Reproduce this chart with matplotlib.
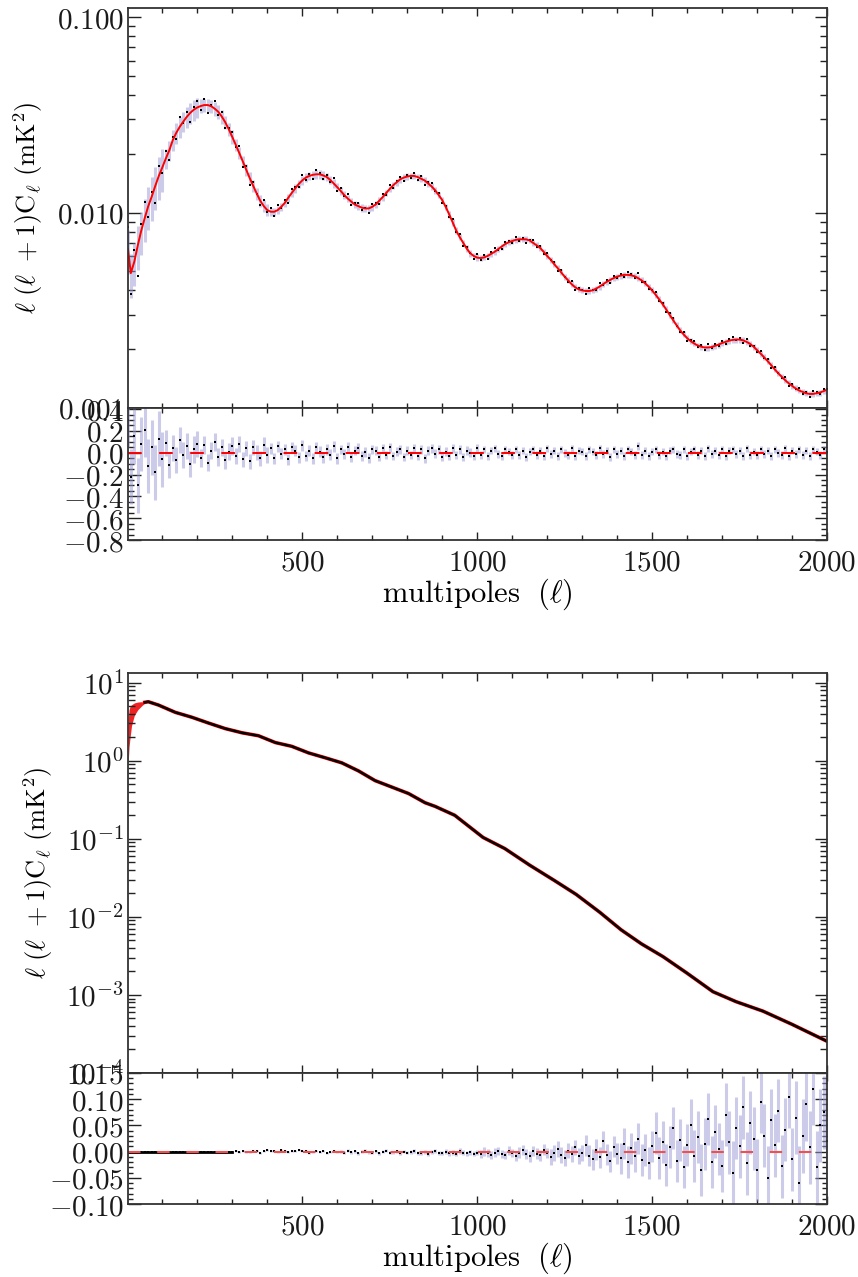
import numpy as np
import matplotlib.pyplot as plt
from matplotlib.ticker import FixedLocator, MultipleLocator, LogLocator, NullFormatter, FixedFormatter

plt.rcParams['mathtext.fontset'] = 'cm'
plt.rcParams['font.family'] = 'DejaVu Serif'

# multipole grid of the plotted points
ell = np.concatenate([[2], np.arange(10, 2001, 10)])

# upper figure: best fit model (units of 1e-3 mK^2)
model_top = np.array([
    6.5,
    4.9, 5.6, 6.8, 8.1, 9.4, 10.8, 12.1, 13.7, 15.4, 17.0,
    18.9, 20.8, 23.5, 25.6, 27.5, 29.2, 30.9, 32.4, 33.6, 34.5,
    35.1, 35.5, 35.5, 35.0, 34.0, 32.8, 31.0, 29.0, 26.7, 24.4,
    22.2, 20.2, 18.3, 16.6, 15.0, 13.7, 12.5, 11.5, 10.8, 10.3,
    10.1, 10.1, 10.3, 10.7, 11.2, 11.9, 12.6, 13.3, 14.0, 14.6,
    15.1, 15.4, 15.6, 15.7, 15.7, 15.5, 15.2, 14.7, 14.1, 13.5,
    12.9, 12.3, 11.8, 11.4, 11.0, 10.8, 10.6, 10.5, 10.5, 10.7,
    11.0, 11.5, 12.0, 12.6, 13.2, 13.8, 14.3, 14.8, 15.1, 15.3,
    15.4, 15.4, 15.2, 14.9, 14.6, 14.1, 13.6, 13.0, 12.3, 11.6,
    10.7, 9.8, 8.9, 8.1, 7.5, 7.0, 6.55, 6.2, 6.0, 5.88,
    5.85, 5.9, 6.0, 6.15, 6.3, 6.5, 6.7, 6.9, 7.05, 7.15,
    7.25, 7.3, 7.3, 7.3, 7.2, 7.0, 6.8, 6.6, 6.3, 6.0,
    5.75, 5.45, 5.2, 4.95, 4.7, 4.5, 4.3, 4.15, 4.05, 4.0,
    3.97, 3.97, 4.0, 4.08, 4.18, 4.3, 4.42, 4.52, 4.62, 4.7,
    4.76, 4.8, 4.8, 4.78, 4.72, 4.62, 4.5, 4.35, 4.18, 4.0,
    3.8, 3.6, 3.4, 3.2, 3.0, 2.82, 2.65, 2.5, 2.38, 2.28,
    2.2, 2.14, 2.09, 2.06, 2.04, 2.04, 2.05, 2.08, 2.11, 2.15,
    2.18, 2.21, 2.23, 2.24, 2.24, 2.22, 2.18, 2.13, 2.06, 1.98,
    1.9, 1.82, 1.74, 1.66, 1.58, 1.51, 1.45, 1.39, 1.34, 1.3,
    1.26, 1.23, 1.21, 1.19, 1.18, 1.18, 1.19, 1.2, 1.22, 1.24]) * 1e-3

# upper figure: fractional residuals (data - model)/model
res_top = np.array([
    0.30,
    -0.22, 0.15, -0.30, 0.08, 0.21, -0.12, 0.05, -0.18, 0.13, -0.06,
    0.09, -0.11, 0.04, -0.07, 0.12, -0.02, 0.06, -0.10, 0.03, 0.08,
    -0.05, 0.07, -0.09, 0.02, 0.10, -0.04, 0.05, -0.07, 0.01, 0.06,
    -0.03, 0.08, -0.06, 0.04, -0.08, 0.05, 0.00, -0.05, 0.07, -0.02,
    0.04, -0.05, 0.06, -0.01, 0.03, -0.06, 0.05, 0.02, -0.04, 0.07,
    -0.03, 0.02, -0.05, 0.05, 0.01, -0.04, 0.03, -0.02, 0.06, -0.05,
    0.03, -0.01, 0.05, -0.04, 0.02, 0.04, -0.03, 0.01, -0.05, 0.03,
    0.02, -0.04, 0.04, -0.02, 0.05, -0.03, 0.01, 0.03, -0.04, 0.02,
    -0.02, 0.04, -0.03, 0.03, -0.05, 0.02, 0.04, -0.01, 0.03, -0.04,
    0.01, -0.03, 0.04, -0.02, 0.03, -0.04, 0.02, 0.00, -0.03, 0.04,
    -0.02, 0.03, -0.03, 0.02, 0.04, -0.01, -0.03, 0.03, 0.01, -0.02,
    0.03, -0.02, 0.02, -0.04, 0.01, 0.03, -0.02, 0.02, -0.03, 0.04,
    -0.01, 0.02, -0.03, 0.03, 0.00, -0.02, 0.04, -0.03, 0.02, 0.01,
    -0.03, 0.03, 0.01, -0.02, 0.04, -0.01, 0.02, -0.04, 0.03, -0.01,
    0.02, -0.03, 0.03, 0.01, -0.02, 0.06, -0.02, 0.02, -0.03, 0.01,
    0.03, -0.02, 0.01, -0.03, 0.02, 0.03, -0.01, -0.02, 0.03, -0.03,
    0.01, 0.03, -0.02, 0.02, -0.03, 0.04, -0.01, 0.02, -0.02, 0.03,
    -0.03, 0.02, 0.03, -0.01, 0.02, -0.03, 0.04, -0.02, 0.01, -0.02,
    0.03, -0.01, 0.02, -0.03, 0.03, 0.00, -0.02, 0.04, -0.03, 0.02,
    -0.01, 0.03, -0.02, 0.02, -0.03, 0.03, 0.01, -0.02, 0.03, 0.01])

# fractional error per 100-multipole block
sig_top = np.array([0.25, 0.12, 0.08, 0.07, 0.05, 0.05, 0.045, 0.04, 0.04, 0.04,
                    0.035, 0.035, 0.035, 0.035, 0.035, 0.035, 0.035, 0.035, 0.035, 0.035])

# lower figure: spectrum
ell_bot = np.array([50, 60, 89, 137, 185, 232, 280, 328, 375, 423, 470, 518, 566, 613, 661,
                    708, 756, 804, 851, 880, 936, 1017, 1079, 1150, 1222, 1283, 1350, 1412,
                    1470, 1531, 1600, 1674, 1740, 1817, 1900, 2000])
cl_bot = np.array([5.6, 5.7, 5.17, 4.17, 3.6, 3.04, 2.58, 2.28, 2.09, 1.71, 1.53, 1.26, 1.09,
                   0.94, 0.74, 0.557, 0.46, 0.38, 0.29, 0.26, 0.20, 0.104, 0.075, 0.046, 0.029,
                   0.0194, 0.0115, 0.0068, 0.0045, 0.0031, 0.0019, 0.0011, 0.00082, 0.00062,
                   0.00042, 0.000255])
# red band at low multipoles
ell_band = np.array([2, 5, 8, 12, 20, 30, 40, 50])
band_lo = np.array([0.85, 1.5, 2.0, 2.8, 3.8, 4.5, 5.0, 5.5])
band_hi = np.array([3.0, 4.5, 5.0, 5.2, 5.5, 5.65, 5.7, 5.65])

res_bot = np.array([
    0.0,
    0.0, 0.0, 0.0, 0.0, 0.0, 0.0, 0.0, 0.0, 0.0, 0.0,
    0.0, 0.0, 0.0, 0.0, 0.0, 0.0, 0.0, 0.0, 0.0, 0.0,
    0.0, 0.0, 0.0, 0.0, 0.0, 0.0, 0.0, 0.0, 0.0, 0.0,
    0.001, -0.001, 0.002, 0.000, -0.001, 0.002, 0.001, -0.002, 0.001, 0.003,
    0.002, 0.001, -0.001, 0.003, 0.002, 0.000, 0.002, 0.001, 0.003, 0.002,
    0.001, -0.002, 0.000, 0.002, -0.001, 0.001, -0.002, 0.000, 0.001, -0.001,
    0.000, -0.002, 0.002, -0.001, 0.001, -0.003, 0.000, 0.002, -0.001, -0.002,
    0.001, -0.003, 0.000, 0.002, -0.002, -0.001, 0.001, -0.003, 0.000, -0.002,
    -0.001, 0.001, -0.003, -0.002, 0.000, -0.004, -0.001, 0.001, -0.002, -0.003,
    0.000, -0.003, -0.002, -0.004, 0.001, -0.002, -0.003, -0.001, -0.004, -0.002,
    -0.005, 0.000, -0.003, -0.007, -0.002, 0.001, -0.004, -0.006, 0.002, -0.003,
    -0.008, -0.002, 0.003, -0.005, -0.009, 0.001, -0.004, -0.007, 0.004, -0.003,
    -0.010, -0.002, 0.005, -0.006, -0.012, 0.002, -0.004, 0.008, -0.009, -0.003,
    0.012, -0.008, -0.015, 0.004, -0.011, 0.020, -0.006, -0.018, 0.009, -0.004,
    -0.013, 0.015, -0.020, 0.006, -0.009, 0.025, -0.016, 0.003, -0.022, 0.010,
    0.035, -0.012, 0.018, -0.025, 0.008, 0.045, -0.018, 0.022, -0.030, 0.012,
    0.050, -0.008, 0.028, -0.035, 0.015, 0.062, -0.020, 0.038, 0.005, -0.028,
    0.070, 0.018, -0.040, 0.045, 0.010, 0.085, -0.022, 0.055, 0.025, -0.035,
    0.095, 0.030, -0.050, 0.060, 0.012, 0.078, -0.028, 0.042, 0.105, -0.015,
    0.065, -0.060, 0.030, 0.090, 0.008, 0.120, -0.030, 0.050, 0.075, 0.020])

sig_bot = np.array([0.001, 0.001, 0.001, 0.002, 0.002, 0.002, 0.003, 0.003, 0.004, 0.005,
                    0.008, 0.010, 0.015, 0.02, 0.03, 0.04, 0.05, 0.06, 0.06, 0.07])

blk = (ell - 1) // 100
err_top = sig_top[blk]
err_bot = sig_bot[blk]
data_top = model_top * (1 + res_top)

lav = '#9a9ad6'
ylab = r'$\ell\ (\ell\ +1)\mathrm{C}_\ell\ (\mathrm{mK}^2)$'
xlab = r'$\mathrm{multipoles}\ \ (\ell)$'
fs = 21

W, H = 858, 1277
fig = plt.figure(figsize=(W / 100, H / 100), dpi=100)
L, Wd = 128 / W, 699 / W
ax1 = fig.add_axes([L, 1 - 408 / H, Wd, 400 / H])
ax2 = fig.add_axes([L, 1 - 540 / H, Wd, 132 / H])
ax3 = fig.add_axes([L, 1 - 1073 / H, Wd, 400 / H])
ax4 = fig.add_axes([L, 1 - 1204 / H, Wd, 131 / H])


def style(ax, ymaj, ymin):
    ax.set_xlim(2, 2000)
    ax.xaxis.set_major_locator(FixedLocator([500, 1000, 1500, 2000]))
    ax.xaxis.set_minor_locator(MultipleLocator(100))
    ax.tick_params(which='both', direction='in', top=True, right=True, colors='#222222',
                   labelsize=fs, width=1.0, labelcolor='#1a1a1a')
    ax.tick_params(axis='y', which='major', length=ymaj, pad=3)
    ax.tick_params(axis='y', which='minor', length=ymin)
    ax.tick_params(axis='x', which='major', length=6)
    ax.tick_params(axis='x', which='minor', length=3.5)
    for s in ax.spines.values():
        s.set_linewidth(1.3)
        s.set_color('#333333')


# upper spectrum
ax1.vlines(ell, model_top * (1 - err_top), model_top * (1 + err_top), color=lav, lw=2.2, alpha=0.5)
ax1.plot(ell, data_top, 's', ms=2.0, color='k', mew=0)
ax1.plot(ell, model_top, color='red', lw=1.4)
ax1.set_yscale('log')
ax1.set_ylim(0.001, 0.1114)
style(ax1, 9, 5)
ax1.yaxis.set_major_locator(FixedLocator([0.001, 0.01, 0.1]))
ax1.yaxis.set_major_formatter(FixedFormatter([r'$0.001$', r'$0.010$', r'$0.100$']))
ax1.yaxis.set_minor_locator(LogLocator(base=10, subs=np.arange(2, 10)))
ax1.yaxis.set_minor_formatter(NullFormatter())
ax1.set_xticklabels([])
ax1.set_ylabel(ylab, fontsize=19, labelpad=8)

# upper residuals
ax2.vlines(ell, res_top - err_top, res_top + err_top, color=lav, lw=2.2, alpha=0.5)
ax2.plot(ell, res_top, 's', ms=2.0, color='k', mew=0)
ax2.axhline(0, color='red', lw=1.4, dashes=(7, 9))
ax2.set_ylim(-0.80, 0.41)
style(ax2, 9, 4)
ax2.yaxis.set_major_locator(FixedLocator([-0.8, -0.6, -0.4, -0.2, 0.0, 0.2, 0.4]))
ax2.yaxis.set_major_formatter(FixedFormatter([r'$-0.8$', r'$-0.6$', r'$-0.4$', r'$-0.2$',
                                              r'$0.0$', r'$0.2$', r'$0.4$']))
ax2.yaxis.set_minor_locator(MultipleLocator(0.05))
ax2.xaxis.set_major_formatter(FixedFormatter([r'$500$', r'$1000$', r'$1500$', r'$2000$']))
ax2.tick_params(axis='x', pad=6)
ax2.set_xlabel(xlab, fontsize=22, labelpad=0)

# lower spectrum
ax3.fill_between(ell_band, band_lo, band_hi, color='#ee2222', lw=0)
ax3.plot(ell_bot, cl_bot, color='red', lw=2.6)
ax3.plot(ell_bot, cl_bot, color='k', lw=1.8)
ax3.set_yscale('log')
ax3.set_ylim(1e-4, 13.3)
style(ax3, 9, 5)
ax3.yaxis.set_major_locator(FixedLocator([1e-4, 1e-3, 1e-2, 1e-1, 1, 10]))
ax3.yaxis.set_major_formatter(FixedFormatter([r'$10^{-4}$', r'$10^{-3}$', r'$10^{-2}$',
                                              r'$10^{-1}$', r'$10^{0}$', r'$10^{1}$']))
ax3.yaxis.set_minor_locator(LogLocator(base=10, subs=np.arange(2, 10)))
ax3.yaxis.set_minor_formatter(NullFormatter())
ax3.set_xticklabels([])
ax3.set_ylabel(ylab, fontsize=19, labelpad=8)

# lower residuals
ax4.vlines(ell, res_bot - err_bot, res_bot + err_bot, color=lav, lw=2.2, alpha=0.5)
ax4.plot(ell, res_bot, 's', ms=2.0, color='k', mew=0)
ax4.plot(ell[ell <= 300], res_bot[ell <= 300], color='k', lw=2)
ax4.axhline(0, color='#f05050', lw=1.5, dashes=(6, 8))
ax4.set_ylim(-0.10, 0.15)
style(ax4, 9, 3.5)
ax4.yaxis.set_major_locator(FixedLocator([-0.10, -0.05, 0.0, 0.05, 0.10, 0.15]))
ax4.yaxis.set_major_formatter(FixedFormatter([r'$-0.10$', r'$-0.05$', r'$0.00$',
                                              r'$0.05$', r'$0.10$', r'$0.15$']))
ax4.yaxis.set_minor_locator(MultipleLocator(0.01))
ax4.xaxis.set_major_formatter(FixedFormatter([r'$500$', r'$1000$', r'$1500$', r'$2000$']))
ax4.tick_params(axis='x', pad=6)
ax4.set_xlabel(xlab, fontsize=22, labelpad=0)

fig.savefig('out.png', dpi=100)
